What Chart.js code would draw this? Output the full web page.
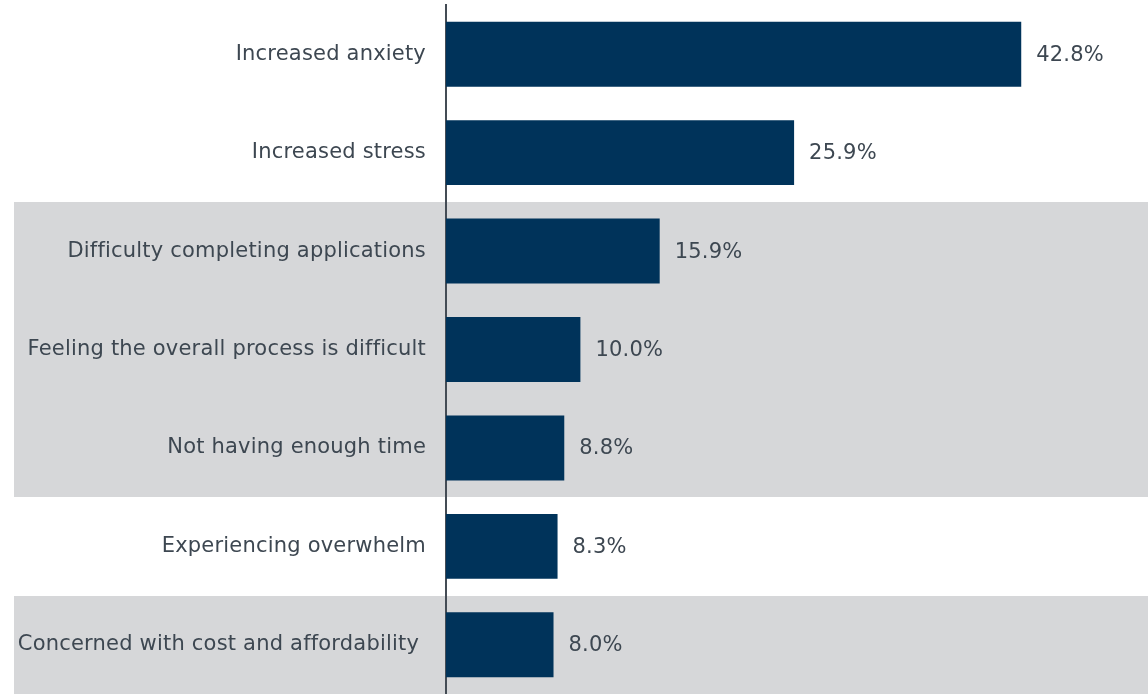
<!DOCTYPE html>
<html>
<head>
<meta charset="utf-8">
<title>Reported effects</title>
<script src="https://cdn.jsdelivr.net/npm/chart.js@4/dist/chart.umd.min.js"></script>
<style>
  html, body { margin: 0; padding: 0; background: #ffffff; }
  #wrap { width: 1148px; height: 694px; position: relative; }
</style>
</head>
<body>
<div id="wrap"><canvas id="chart"></canvas></div>
<script>
// Categories and percentages, top to bottom
const categories = [
    'Increased anxiety',
    'Increased stress',
    'Difficulty completing applications',
    'Feeling the overall process is difficult',
    'Not having enough time',
    'Experiencing overwhelm',
    'Concerned with cost and affordability '
];
const percentValues = [42.8, 25.9, 15.9, 10.0, 8.8, 8.3, 8.0];

// Rows that sit on a grey band
const shadedRows = [2, 3, 4, 6];

const TEXT_COLOR = '#3d4751';
const BAR_COLOR = '#00335a';
const BAND_COLOR = '#d6d7d9';
const FONT = '"DejaVu Sans", Verdana, sans-serif';
const FONT_SIZE = 21;

// Grey bands behind selected rows, full width to the right edge.
// Also sets a little letter spacing for all canvas text.
const rowBands = {
    id: 'rowBands',
    beforeDraw(chart) {
        const { ctx, scales: { y } } = chart;
        ctx.letterSpacing = '0.2px';
        const step = Math.abs(y.getPixelForValue(1) - y.getPixelForValue(0));
        ctx.save();
        ctx.fillStyle = BAND_COLOR;
        shadedRows.forEach(i => {
            const mid = y.getPixelForValue(i);
            const top = Math.round(mid - step / 2);
            const bottom = Math.round(mid + step / 2);
            ctx.fillRect(14, top, chart.width - 14, bottom - top);
        });
        ctx.restore();
    }
};

// Percentage text just past the end of each bar
const valueLabels = {
    id: 'valueLabels',
    afterDatasetsDraw(chart) {
        const { ctx } = chart;
        const meta = chart.getDatasetMeta(0);
        ctx.save();
        ctx.fillStyle = TEXT_COLOR;
        ctx.font = FONT_SIZE + 'px ' + FONT;
        ctx.textAlign = 'left';
        ctx.textBaseline = 'middle';
        meta.data.forEach((bar, i) => {
            ctx.fillText(percentValues[i].toFixed(1) + '%', bar.x + 15, bar.y + 1);
        });
        ctx.restore();
    }
};

new Chart(document.getElementById('chart'), {
    type: 'bar',
    data: {
        labels: categories,
        datasets: [{
            data: percentValues,
            backgroundColor: BAR_COLOR,
            borderWidth: 0,
            categoryPercentage: 1.0,
            barPercentage: 0.66
        }]
    },
    options: {
        indexAxis: 'y',
        responsive: true,
        maintainAspectRatio: false,
        animation: false,
        layout: { padding: { top: 5, right: 30, bottom: 0, left: 0 } },
        plugins: {
            legend: { display: false },
            tooltip: { enabled: false }
        },
        scales: {
            x: {
                min: 0,
                max: 50,
                display: false
            },
            y: {
                afterFit(scale) {
                    scale.width = 446;
                    scale.paddingTop = 0;
                    scale.paddingBottom = 0;
                },
                grid: { display: false, drawTicks: false },
                border: { display: true, color: '#444c55', width: 2 },
                ticks: {
                    color: TEXT_COLOR,
                    font: { family: FONT, size: FONT_SIZE },
                    padding: 20
                }
            }
        }
    },
    plugins: [rowBands, valueLabels]
});
</script>
</body>
</html>
